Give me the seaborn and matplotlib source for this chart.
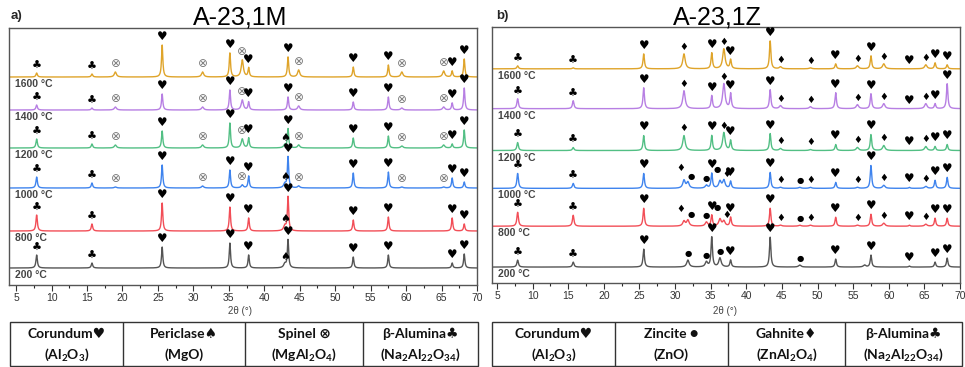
import numpy as np
import pandas as pd
import matplotlib
matplotlib.use('Agg')
import matplotlib.pyplot as plt
import seaborn as sns
from matplotlib.ticker import MultipleLocator
from matplotlib.patches import Rectangle
from matplotlib.lines import Line2D

sns.set_theme(style='white')
plt.rcParams['font.family'] = ['Liberation Sans', 'DejaVu Sans']
plt.rcParams['mathtext.fontset'] = 'custom'
plt.rcParams['mathtext.bf'] = 'Lato:bold'
plt.rcParams['mathtext.rm'] = 'Lato:bold'
plt.rcParams['mathtext.default'] = 'bf'

# ---------------- data ----------------
temps = ['1600 °C', '1400 °C', '1200 °C', '1000 °C', '800 °C', '200 °C']
colors = ['#DFA42A', '#B77FE3', '#52BF84', '#3F84EE', '#F24E57', '#555555']

# Left panel: A-23,1M
M_pos = [7.9, 15.7, 19.0, 25.6, 31.3, 35.15, 36.9, 37.8, 42.9, 43.35, 44.85, 52.55, 57.5, 59.4, 65.3, 66.5, 68.2]
M_phase = ['B', 'B', 'S', 'C', 'S', 'C', 'S', 'C', 'P', 'C', 'S', 'C', 'C', 'S', 'S', 'C', 'C']
nan = np.nan
M_h = {
    '1600 °C': [4, 3, 5, 32, 5, 24, 17, 9, nan, 20, 7, 10, 12, 5, 6, 6, 18],
    '1400 °C': [5, 2, 3, 16, 3, 20, 10, 8, nan, 13, 4, 8, 13, 2, 3, 7, 22],
    '1200 °C': [9, 4, 3, 17, 3, 25, 9, 10, 3, 19, 3, 10, 12, 2, 3, 4, 18],
    '1000 °C': [11, 5, 1, 23, 2, 18, 3, 12, 4, 31, 2, 15, 16, 1, 1, 10, 6],
    '800 °C':  [16, 7, nan, 28, nan, 24, nan, 13, 5, 34, nan, 11, 14, nan, nan, 13, 7],
    '200 °C':  [13, 5, nan, 21, nan, 25, nan, 13, 4, 28, nan, 11, 13, nan, nan, 5, 14],
}

# Right panel: A-23,1Z
Z_pos = [7.9, 15.7, 25.6, 31.25, 31.8, 34.4, 35.15, 36.3, 36.85, 37.8, 43.35, 44.8, 47.5, 49.0,
         52.55, 55.6, 56.6, 57.5, 59.3, 62.9, 65.2, 66.5, 68.2]
Z_phase = ['B', 'B', 'C', 'G', 'Z', 'Z', 'C', 'Z', 'G', 'C', 'C', 'G', 'Z', 'G',
           'C', 'G', '-', 'C', 'G', 'C', 'G', 'C', 'C']
Z_h = {
    '1600 °C': [3, 1, 15, 15, nan, nan, 16, nan, 20, 9, 28, 2, nan, 1, 5, 3, nan, 13, 5, 0, 4, 6, 4],
    '1400 °C': [10, 8, 21, 18, nan, nan, 13, nan, 25, 15, 19, 3, nan, 2, 16, 4, nan, 15, 5, 0, 5, 5, 25],
    '1200 °C': [8, 3, 15, 15, nan, nan, 15, nan, 18, 10, 17, 2, nan, 1, 6, 3, nan, 16, 5, 0, 4, 4, 6],
    '1000 °C': [15, 5, 15, 8, 6, 3, 15, 7, 8, 7, 16, 1, 1, 1, 6, 1, nan, 23, 3, 1, 2, 8, 11],
    '800 °C':  [14, 11, 18, 5, 6, 4, 11, 7, 5, 9, 18, 1, 1, 1, 9, 1, nan, 12, 3, 1, 2, 8, 8],
    '200 °C':  [7, 5, 18, nan, 7, 5, 30, 9, nan, 7, 30, nan, 2, nan, 8, nan, 2, 12, nan, 1, nan, 5, 9],
}

left_legend = [('Corundum\u2665', '(Al$_2$O$_3$)'), ('Periclase\u2660', '(MgO)'),
               ('Spinel \u2297', '(MgAl$_2$O$_4$)'), ('\u03b2-Alumina\u2663', '(Na$_2$Al$_{22}$O$_{34}$)')]
right_legend = [('Corundum\u2665', '(Al$_2$O$_3$)'), ('Zincite \u25cf', '(ZnO)'),
                ('Gahnite\u2666', '(ZnAl$_2$O$_4$)'), ('\u03b2-Alumina\u2663', '(Na$_2$Al$_{22}$O$_{34}$)')]

# ---------------- styling ----------------
symbols = {'C': '\u2665', 'B': '\u2663', 'P': '\u2660', 'S': '\u2297', 'G': '\u2666', 'Z': '\u25cf'}
sym_color = {'C': 'black', 'B': 'black', 'P': 'black', 'S': '#777777', 'G': 'black', 'Z': 'black'}
sym_size = {'C': 8.5, 'B': 8, 'P': 8, 'S': 8.5, 'G': 7, 'Z': 6}
widths_M = {'C': 0.11, 'B': 0.12, 'P': 0.2, 'S': 0.18}
widths_Z = {'C': 0.12, 'B': 0.13, 'G': 0.2, 'Z': 0.2, '-': 0.2}
left_offsets = [208, 175, 137, 97, 54, 17]
right_offsets = [215, 175, 133, 95, 57, 16]

W, H = 965, 367
fig = plt.figure(figsize=(W / 100, H / 100), dpi=100)
axL = fig.add_axes([9 / W, 1 - 285 / H, 468 / W, 257 / H])
axR = fig.add_axes([492 / W, 1 - 283 / H, 468 / W, 256 / H])

x = np.linspace(4, 70, 4000)


def build(pos, phase, hdict, offsets, widths):
    rows = []
    for t, off in zip(temps, offsets):
        y = np.zeros_like(x)
        for p, ph, h in zip(pos, phase, hdict[t]):
            if np.isnan(h) or h <= 0:
                continue
            g = widths[ph]
            y += h / (1 + ((x - p) / g) ** 2)
        rows.append(pd.DataFrame({'two_theta': x, 'intensity': y + off, 'temp': t}))
    return pd.concat(rows, ignore_index=True)


def close(a, b):
    return abs(a[0] - b[0]) < 0.75 and abs(a[2] - b[2]) < 6


def draw(ax, pos, phase, hdict, offsets, widths, xlim):
    df = build(pos, phase, hdict, offsets, widths)
    sns.lineplot(data=df, x='two_theta', y='intensity', hue='temp', hue_order=temps,
                 palette=colors, legend=False, ax=ax, linewidth=1.0, estimator=None, sort=False)
    for t, off in zip(temps, offsets):
        marks = [(p, ph, h) for p, ph, h in zip(pos, phase, hdict[t])
                 if not np.isnan(h) and ph != '-']
        for i, (p, ph, h) in enumerate(marks):
            dx, dy = 0.0, 1.5
            prev_close = i > 0 and close(marks[i], marks[i - 1])
            next_close = i < len(marks) - 1 and close(marks[i], marks[i + 1])
            if next_close and not prev_close:
                dx, dy = -2.0, 5.0
            elif prev_close and not next_close:
                dx, dy = 2.0, 1.0
            elif prev_close and next_close:
                dx, dy = 0.0, 7.0
            ax.annotate(symbols[ph], (p, off + h), xytext=(dx, dy), textcoords='offset points',
                        ha='center', va='bottom', fontsize=sym_size[ph], color=sym_color[ph],
                        family=['DejaVu Sans'])
        ax.text(xlim[0] + 0.9, off - 2, t, ha='left', va='top', fontsize=7.5,
                color='#444444', fontweight='bold')
    ax.set_xlim(*xlim)
    ax.set_ylim(0, 257)
    ax.set_yticks([])
    ax.set_xlabel('')
    ax.set_ylabel('')
    ax.xaxis.set_major_locator(MultipleLocator(5))
    ax.xaxis.set_minor_locator(MultipleLocator(2.5))
    ax.tick_params(axis='x', which='major', direction='out', length=4, width=0.8,
                   labelsize=7.5, colors='#333333', bottom=True, pad=2)
    ax.tick_params(axis='x', which='minor', direction='out', length=2.5, width=0.8, bottom=True)
    for s in ax.spines.values():
        s.set_color('#555555')
        s.set_linewidth(1.0)


draw(axL, M_pos, M_phase, M_h, left_offsets, widths_M, (4, 70))
draw(axR, Z_pos, Z_phase, Z_h, right_offsets, widths_Z, (4.3, 70))

# titles and labels
fig.text(240 / W, 1 - 18 / H, 'A-23,1M', ha='center', va='center', fontsize=18, color='black')
fig.text(717 / W, 1 - 18 / H, 'A-23,1Z', ha='center', va='center', fontsize=18, color='black')
fig.text(11 / W, 1 - 16 / H, 'a)', ha='left', va='center', fontsize=9.5, fontweight='bold')
fig.text(496 / W, 1 - 16 / H, 'b)', ha='left', va='center', fontsize=9.5, fontweight='bold')
fig.text(240 / W, 1 - 311 / H, '2θ (°)', ha='center', va='center', fontsize=7, color='#444444')
fig.text(725 / W, 1 - 311 / H, '2θ (°)', ha='center', va='center', fontsize=7, color='#444444')


def table(x0, x1, dividers, entries):
    tax = fig.add_axes([x0 / W, 1 / H, (x1 - x0) / W, 44 / H])
    tax.set_xlim(0, 1)
    tax.set_ylim(0, 1)
    tax.axis('off')
    tax.add_patch(Rectangle((0, 0), 1, 1, fill=False, edgecolor='#333333', lw=1.0,
                            transform=tax.transAxes, clip_on=False))
    edges = [0] + [(d - x0) / (x1 - x0) for d in dividers] + [1]
    for e in edges[1:-1]:
        tax.add_line(Line2D([e, e], [0, 1], color='#333333', lw=1.0))
    for i, (l1, l2) in enumerate(entries):
        cx = (edges[i] + edges[i + 1]) / 2
        tax.text(cx, 0.64, l1, ha='center', va='baseline', fontsize=10, fontweight='bold',
                 family=['Lato', 'DejaVu Sans'], color='#111111')
        tax.text(cx, 0.17, l2, ha='center', va='baseline', fontsize=10, fontweight='bold',
                 family=['Lato', 'DejaVu Sans'], color='#111111')


table(10, 478, [123, 245, 363], left_legend)
table(492, 962, [615, 728, 845], right_legend)

fig.savefig('out.png', dpi=100, facecolor='white')
